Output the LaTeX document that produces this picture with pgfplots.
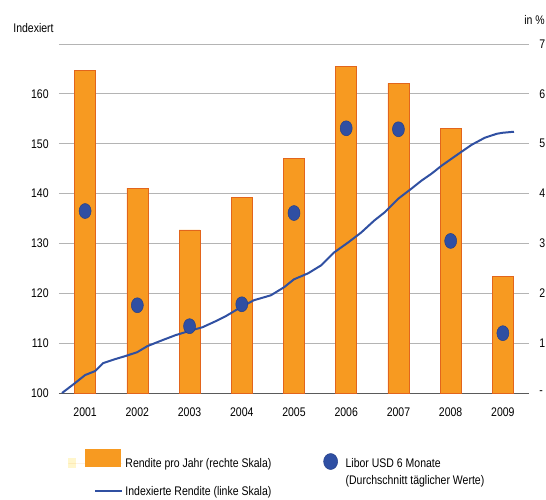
\documentclass[border=0pt]{standalone}
\usepackage{fontspec}
\setmainfont{Liberation Sans}[FakeStretch=0.84]
\usepackage{pgfplots}
\pgfplotsset{compat=1.18}

\definecolor{barorange}{HTML}{F79A21}
\definecolor{baredge}{HTML}{E2651C}
\definecolor{lineblue}{HTML}{3050A2}
\definecolor{dotblue}{HTML}{2F4FA3}
\definecolor{dotedge}{HTML}{253F88}
\definecolor{gridgray}{HTML}{B4B4B4}
\definecolor{axisgray}{HTML}{5A5A5A}
\definecolor{paleyellow}{HTML}{FFF6CC}

\begin{document}
\fontsize{12.5bp}{15bp}\selectfont
\begin{tikzpicture}
% left scale: grid, year labels, index ticks
\begin{axis}[
  name=main,
  scale only axis, width=470bp, height=349bp,
  xmin=0.5, xmax=9.5, ymin=100, ymax=170,
  axis x line*=bottom, axis y line*=left,
  x axis line style={draw=axisgray, line width=1pt, -},
  y axis line style={draw=none},
  major tick length=0pt,
  xtick={1,...,9},
  xticklabels={2001,2002,2003,2004,2005,2006,2007,2008,2009},
  ytick={100,110,...,170},
  yticklabels={100,110,120,130,140,150,160,{}},
  ymajorgrids, grid style={draw=gridgray, line width=0.8pt},
  xticklabel style={yshift=-10bp},
  yticklabel style={xshift=-6bp},
  /pgf/number format/assume math mode=true,
]
\end{axis}
% right scale: bars, index line, Libor dots
\begin{axis}[
  scale only axis, width=470bp, height=349bp,
  xmin=0.5, xmax=9.5, ymin=0, ymax=7,
  axis x line=none, axis y line*=right,
  y axis line style={draw=none},
  major tick length=0pt,
  ytick={0,...,7}, yticklabels={-,1,2,3,4,5,6,7},
  yticklabel style={xshift=6bp},
  /pgf/number format/assume math mode=true,
  legend columns=2,
  legend cell align=left,
  legend style={at={(axis description cs:0.0191,-0.1605)}, anchor=north west,
    draw=none, fill=none, inner sep=0pt,
    nodes={inner sep=2bp},
    /tikz/every even column/.append style={column sep=50bp},
    /tikz/row sep=13bp},
]
\addplot[ybar, bar shift=0pt, bar width=21bp, fill=barorange, draw=baredge, line width=0.6pt,
  legend image code/.code={
    \fill[paleyellow] (0bp,-4bp) rectangle (7bp,5bp);
    \fill[barorange] (17bp,-3bp) rectangle (52bp,14bp);
    \path[draw=none] (0bp,0bp) -- (54bp,0bp);
  }] coordinates {
  (1,6.47) (2,4.11) (3,3.27) (4,3.93) (5,4.71) (6,6.55) (7,6.21) (8,5.31) (9,2.34)
};
\addlegendentry{Rendite pro Jahr (rechte Skala)}
\addplot[forget plot, lineblue, line width=2pt, y filter/.expression={(y-100)/10}] table {
x y
0.558 100
0.808 102
1.000 103.6
1.192 104.4
1.346 106
1.577 106.8
1.769 107.4
2.000 108.2
2.192 109.4
2.481 110.6
2.731 111.6
2.981 112.4
3.250 113.2
3.500 114.4
3.692 115.4
3.981 117.2
4.231 118.6
4.558 119.6
4.808 121.2
5.000 122.8
5.269 124
5.519 125.6
5.769 128.2
6.038 130.2
6.288 132.2
6.538 134.6
6.731 136.2
7.000 139
7.250 141
7.442 142.6
7.635 144
7.827 145.6
8.154 148
8.404 149.8
8.654 151.2
8.885 152
9.000 152.2
9.212 152.4
};
\addplot[only marks, mark=*, mark size=7.5bp, mark options={xscale=0.8, fill=dotblue, draw=dotedge, line width=0.5pt},
  legend image code/.code={
    \filldraw[fill=dotblue, draw=dotedge, line width=0.5pt] (7bp,2bp) ellipse [x radius=7bp, y radius=8bp];
    \path[draw=none] (0bp,0bp) -- (20bp,0bp);
  }] coordinates {
  (1,3.65) (2,1.76) (3,1.34) (4,1.78) (5,3.61) (6,5.31) (7,5.29) (8,3.05) (9,1.20)
};
\addlegendentry{\rlap{\raisebox{-17bp}[0pt][0pt]{(Durchschnitt täglicher Werte)}}Libor USD 6 Monate}
\addlegendimage{lineblue, line width=2pt, legend image code/.code={
    \draw[lineblue, line width=2pt] (27bp,0bp) -- (54bp,0bp);
    \path[draw=none] (0bp,0bp) -- (54bp,0bp);}}
\addlegendentry{Indexierte Rendite (linke Skala)}
\end{axis}
\node[anchor=west] at ([xshift=-50bp,yshift=16bp]main.north west) {Indexiert};
\node[anchor=west] at ([xshift=-9bp,yshift=24bp]main.north east) {in \%};
\pgfresetboundingbox
\useasboundingbox ([xshift=-59bp,yshift=-107bp]main.south west) rectangle ++(546bp,500bp);
\end{tikzpicture}
\end{document}
